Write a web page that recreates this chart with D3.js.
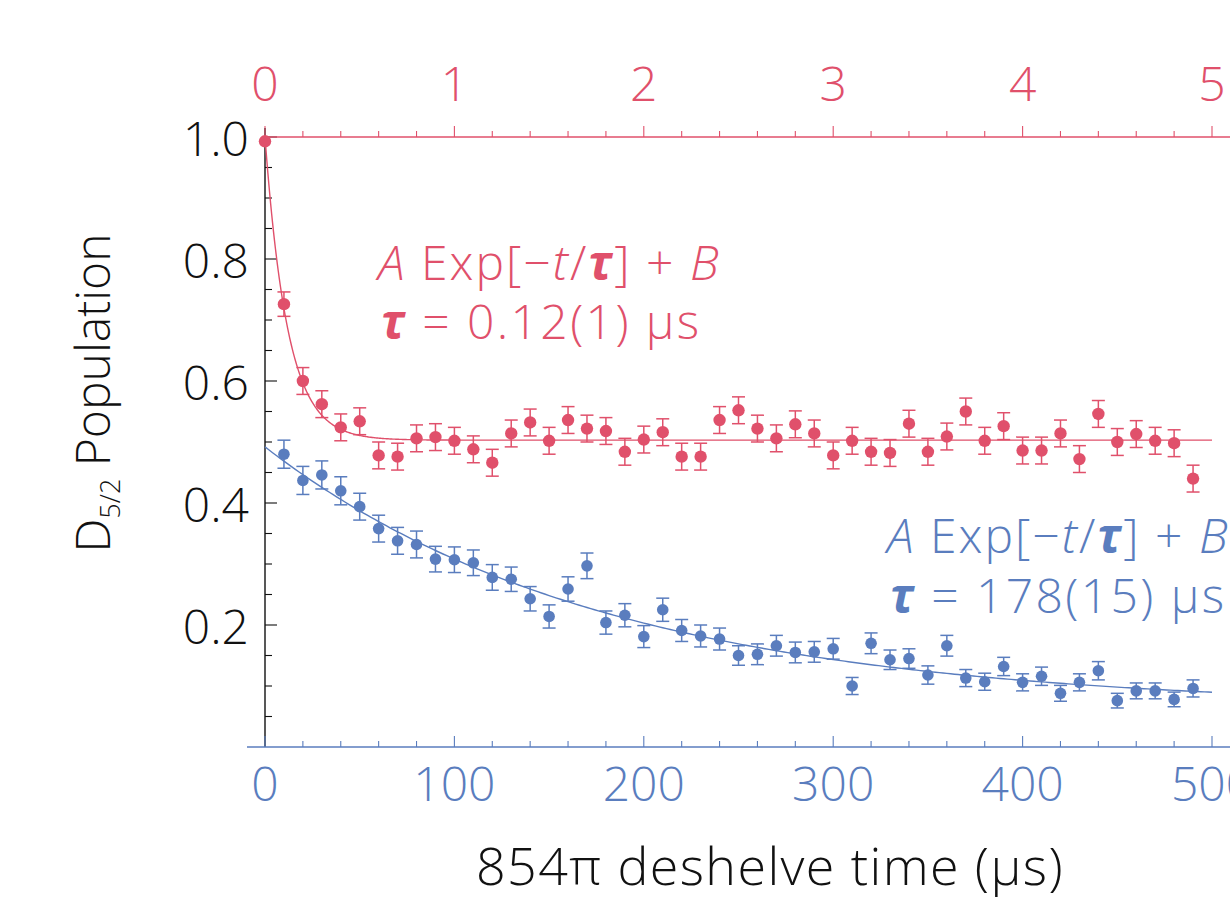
<!DOCTYPE html>
<html>
<head>
<meta charset="utf-8">
<script src="https://cdn.jsdelivr.net/npm/d3@7"></script>
<style>
  html, body { margin: 0; padding: 0; background: #fff; overflow: hidden; }
  svg { display: block; font-family: "Open Sans", "Noto Sans", sans-serif; font-weight: 350; }
</style>
</head>
<body>
<svg id="chart" width="1230" height="903"></svg>
<script>
// ---- Data ----
// Red series: time in µs (top axis)
const redTimes = [0.0,0.1,0.2,0.3,0.4,0.5,0.6,0.7,0.8,0.9,1.0,1.1,1.2,1.3,1.4,1.5,1.6,1.7,1.8,1.9,2.0,2.1,2.2,2.3,2.4,2.5,2.6,2.7,2.8,2.9,3.0,3.1,3.2,3.3,3.4,3.5,3.6,3.7,3.8,3.9,4.0,4.1,4.2,4.3,4.4,4.5,4.6,4.7,4.8,4.9];
const redValues = [0.993,0.726,0.600,0.562,0.524,0.534,0.478,0.476,0.506,0.508,0.502,0.488,0.466,0.514,0.532,0.502,0.536,0.522,0.518,0.484,0.504,0.516,0.476,0.476,0.536,0.552,0.522,0.506,0.529,0.514,0.478,0.502,0.484,0.482,0.530,0.484,0.509,0.550,0.502,0.526,0.486,0.486,0.514,0.472,0.546,0.500,0.513,0.502,0.498,0.440];
const redErrors = [0.004,0.020,0.022,0.022,0.022,0.022,0.022,0.022,0.022,0.022,0.022,0.022,0.022,0.022,0.022,0.022,0.022,0.022,0.022,0.022,0.022,0.022,0.022,0.022,0.022,0.022,0.022,0.022,0.022,0.022,0.022,0.022,0.022,0.022,0.022,0.022,0.022,0.022,0.022,0.022,0.022,0.022,0.022,0.022,0.022,0.022,0.022,0.022,0.022,0.022];
const redFit = { A: 0.497, B: 0.503, tau: 0.12 };

// Blue series: time in µs (bottom axis)
const blueTimes = [10,20,30,40,50,60,70,80,90,100,110,120,130,140,150,160,170,180,190,200,210,220,230,240,250,260,270,280,290,300,310,320,330,340,350,360,370,380,390,400,410,420,430,440,450,460,470,480,490];
const blueValues = [0.480,0.437,0.446,0.420,0.394,0.358,0.338,0.332,0.308,0.307,0.302,0.278,0.275,0.243,0.214,0.259,0.297,0.204,0.216,0.181,0.225,0.191,0.182,0.177,0.150,0.152,0.166,0.155,0.156,0.161,0.100,0.170,0.143,0.145,0.118,0.166,0.113,0.107,0.132,0.106,0.116,0.088,0.106,0.125,0.076,0.092,0.092,0.078,0.096];
const blueErrors = [0.023,0.023,0.023,0.023,0.022,0.022,0.022,0.022,0.021,0.021,0.021,0.021,0.020,0.020,0.019,0.020,0.021,0.019,0.019,0.018,0.019,0.018,0.018,0.018,0.016,0.017,0.017,0.017,0.017,0.017,0.014,0.017,0.016,0.016,0.015,0.017,0.014,0.014,0.015,0.014,0.015,0.013,0.014,0.015,0.012,0.013,0.013,0.012,0.014];
const blueFit = { A: 0.428, B: 0.064, tau: 178 };

const yTickValues = [0.2, 0.4, 0.6, 0.8, 1.0];
const yTickLabels = ["0.2", "0.4", "0.6", "0.8", "1.0"];
const topTickValues = [0, 1, 2, 3, 4, 5];
const bottomTickValues = [0, 100, 200, 300, 400, 500];

// ---- Styles ----
const RED = "#e0506b";
const BLUE = "#5a7dbe";
const BLACK = "#111";

const svg = d3.select("#chart");

const xBottom = d3.scaleLinear().domain([0, 500]).range([265, 1212]);
const xTop = d3.scaleLinear().domain([0, 5]).range([265, 1212]);
const y = d3.scaleLinear().domain([0, 1]).range([747, 137]);

// ---- Axes ----
// Left axis (black), ticks inward
const gLeft = svg.append("g");
gLeft.append("line").attr("x1", 265).attr("x2", 265).attr("y1", 128).attr("y2", 747)
  .attr("stroke", BLACK).attr("stroke-width", 1.4);
d3.range(0.05, 1.0001, 0.05).forEach(v => {
  const major = yTickValues.some(t => Math.abs(t - v) < 1e-6);
  gLeft.append("line").attr("x1", 265).attr("x2", 265 + (major ? 12 : 7))
    .attr("y1", y(v)).attr("y2", y(v)).attr("stroke", BLACK).attr("stroke-width", 1.1);
});
yTickValues.forEach((v, i) => {
  gLeft.append("text").attr("x", 249).attr("y", y(v) + 19)
    .attr("text-anchor", "end").attr("font-size", 48).attr("fill", BLACK)
    .text(yTickLabels[i]);
});

// Top axis (red), ticks outward
const gTop = svg.append("g");
gTop.append("line").attr("x1", 265).attr("x2", 1230).attr("y1", 137).attr("y2", 137)
  .attr("stroke", RED).attr("stroke-width", 1.4);
d3.range(0, 5.0001, 0.2).forEach(v => {
  const major = Math.abs(v - Math.round(v)) < 1e-6;
  gTop.append("line").attr("x1", xTop(v)).attr("x2", xTop(v))
    .attr("y1", 137).attr("y2", 137 - (major ? 11 : 6)).attr("stroke", RED).attr("stroke-width", 1.1);
});
gTop.selectAll("text.top").data(topTickValues).enter().append("text")
  .attr("x", d => xTop(d)).attr("y", 101).attr("text-anchor", "middle")
  .attr("font-size", 48).attr("fill", RED).text(d => d);

// Bottom axis (blue), ticks inward
const gBot = svg.append("g");
gBot.append("line").attr("x1", 247).attr("x2", 1230).attr("y1", 747).attr("y2", 747)
  .attr("stroke", BLUE).attr("stroke-width", 1.4);
d3.range(0, 500.001, 20).forEach(v => {
  const major = Math.abs(v % 100) < 1e-6;
  gBot.append("line").attr("x1", xBottom(v)).attr("x2", xBottom(v))
    .attr("y1", 747).attr("y2", 747 - (major ? 11 : 6)).attr("stroke", BLUE).attr("stroke-width", 1.1);
});
gBot.selectAll("text.bot").data(bottomTickValues).enter().append("text")
  .attr("x", d => xBottom(d)).attr("y", 801).attr("text-anchor", "middle")
  .attr("font-size", 48).attr("fill", BLUE).text(d => d);

// Axis titles
svg.append("text").attr("x", 770).attr("y", 885).attr("text-anchor", "middle")
  .attr("font-size", 52).attr("letter-spacing", 1.4).attr("fill", BLACK).text("854π deshelve time (µs)");

const yt = svg.append("text").attr("transform", "translate(110,393) rotate(-90)")
  .attr("text-anchor", "middle").attr("font-size", 48).attr("fill", BLACK);
yt.append("tspan").text("D");
yt.append("tspan").attr("font-size", 27).attr("dy", 10).text("5/2");
yt.append("tspan").attr("dy", -10).text(" Population");

// ---- Fit lines ----
const redLine = d3.line().x(d => xTop(d)).y(d => y(redFit.A * Math.exp(-d / redFit.tau) + redFit.B));
svg.append("path").datum(d3.range(0, 5.0001, 0.005)).attr("d", redLine)
  .attr("fill", "none").attr("stroke", RED).attr("stroke-width", 1.4);

const blueLine = d3.line().x(d => xBottom(d)).y(d => y(blueFit.A * Math.exp(-d / blueFit.tau) + blueFit.B));
svg.append("path").datum(d3.range(0, 500.001, 2)).attr("d", blueLine)
  .attr("fill", "none").attr("stroke", BLUE).attr("stroke-width", 1.4);

// ---- Points with error bars ----
function drawSeries(times, values, errs, xs, color, r) {
  const g = svg.append("g");
  const data = times.map((t, i) => ({ t, v: values[i], e: errs[i] }));
  const cap = 6.5;
  data.forEach(d => {
    const cx = xs(d.t), y1 = y(d.v + d.e), y2 = y(d.v - d.e);
    if (d.e > 0.006) {
      g.append("line").attr("x1", cx).attr("x2", cx).attr("y1", y1).attr("y2", y2)
        .attr("stroke", color).attr("stroke-width", 1.5);
      g.append("line").attr("x1", cx - cap).attr("x2", cx + cap).attr("y1", y1).attr("y2", y1)
        .attr("stroke", color).attr("stroke-width", 1.5);
      g.append("line").attr("x1", cx - cap).attr("x2", cx + cap).attr("y1", y2).attr("y2", y2)
        .attr("stroke", color).attr("stroke-width", 1.5);
    }
  });
  g.selectAll("circle").data(data).enter().append("circle")
    .attr("cx", d => xs(d.t)).attr("cy", d => y(d.v)).attr("r", r).attr("fill", color);
}
drawSeries(blueTimes, blueValues, blueErrors, xBottom, BLUE, 5.8);
drawSeries(redTimes, redValues, redErrors, xTop, RED, 6.2);

// ---- Annotations ----
function annotate(x, y1, y2, color, tauText) {
  const t1 = svg.append("text").attr("x", x).attr("y", y1).attr("font-size", 48)
    .attr("letter-spacing", 2.0).attr("fill", color);
  t1.append("tspan").attr("font-style", "italic").text("A");
  t1.append("tspan").text(" Exp[\u2212");
  t1.append("tspan").attr("font-style", "italic").text("t");
  t1.append("tspan").text("/");
  t1.append("tspan").attr("font-style", "italic").attr("font-weight", "bold").text("τ");
  t1.append("tspan").text("] + ");
  t1.append("tspan").attr("font-style", "italic").text("B");
  const t2 = svg.append("text").attr("x", x + 3).attr("y", y2).attr("font-size", 48)
    .attr("letter-spacing", 2.4).attr("fill", color);
  t2.append("tspan").attr("font-style", "italic").attr("font-weight", "bold").text("τ");
  t2.append("tspan").text(" = " + tauText);
}
annotate(378, 280, 339, RED, "0.12(1) µs");
annotate(887, 553, 613, BLUE, "178(15) µs");
</script>
</body>
</html>
